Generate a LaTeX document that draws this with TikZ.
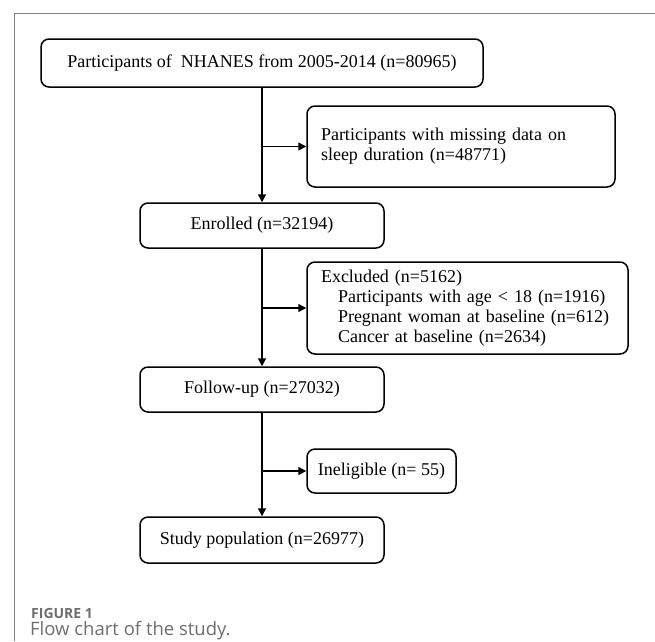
\documentclass[tikz,border=0pt]{standalone}
\usepackage{fontspec}
\setmainfont{Liberation Serif}
\newfontfamily\capfont{Open Sans}
\usepackage{tikz}
\usetikzlibrary{arrows.meta}
\definecolor{framegray}{RGB}{130,130,130}
\definecolor{capgray}{RGB}{110,110,110}

\begin{document}
\begin{tikzpicture}[x=1pt,y=-1pt,
    box/.style={draw,line width=1.5pt,rounded corners=8pt,inner sep=0pt,
        font=\fontsize{18}{20}\selectfont},
    sidebox/.style={box,align=left,inner xsep=14pt},
    arr/.style={line width=1.5pt,-{Triangle[length=8pt,width=8pt]}}]
\useasboundingbox (0,0) rectangle (655,641);
\draw[framegray,line width=1pt] (14,641) -- (14,13) -- (655,13);

\node[box,minimum width=442pt,minimum height=48pt] (start) at (262,63)
        {Participants of~~NHANES from 2005-2014 (n=80965)};
\node[sidebox,text width=280pt,minimum height=81pt] (miss) at (461,146.5)
        {Participants with missing data on\\sleep duration (n=48771)};
\node[box,minimum width=244pt,minimum height=45pt] (enrol) at (262,225.5)
        {Enrolled (n=32194)};
\node[sidebox,text width=293pt,minimum height=92pt] (excl) at (467.5,308)
        {Excluded (n=5162)\\
        \hspace{17pt}Participants with age < 18 (n=1916)\\
        \hspace{17pt}Pregnant woman at baseline (n=612)\\
        \hspace{17pt}Cancer at baseline (n=2634)};
\node[box,minimum width=244pt,minimum height=45pt] (follow) at (262,389.5)
        {Follow-up (n=27032)};
\node[box,minimum width=149pt,minimum height=44pt] (inel) at (381.5,471)
        {Ineligible (n= 55)};
\node[box,minimum width=244pt,minimum height=46pt] (study) at (262,540)
        {Study population (n=26977)};

\draw[arr] (start.south) -- (enrol.north);
\draw[arr] (start.south |- miss.west) -- (miss.west);
\draw[arr] (enrol.south) -- (follow.north);
\draw[arr] (enrol.south |- excl.west) -- (excl.west);
\draw[arr] (follow.south) -- (study.north);
\draw[arr] (follow.south |- inel.west) -- (inel.west);

\node[anchor=west,inner sep=0pt,text=capgray,font=\capfont\bfseries\fontsize{14}{16}\selectfont]
        (fig) at (31,613) {FIGURE 1};
\node[anchor=west,inner sep=0pt,text=capgray,font=\capfont\fontsize{18.5}{21}\selectfont]
        (cap) at (30,630.5) {Flow chart of the study.};
\end{tikzpicture}
\end{document}
